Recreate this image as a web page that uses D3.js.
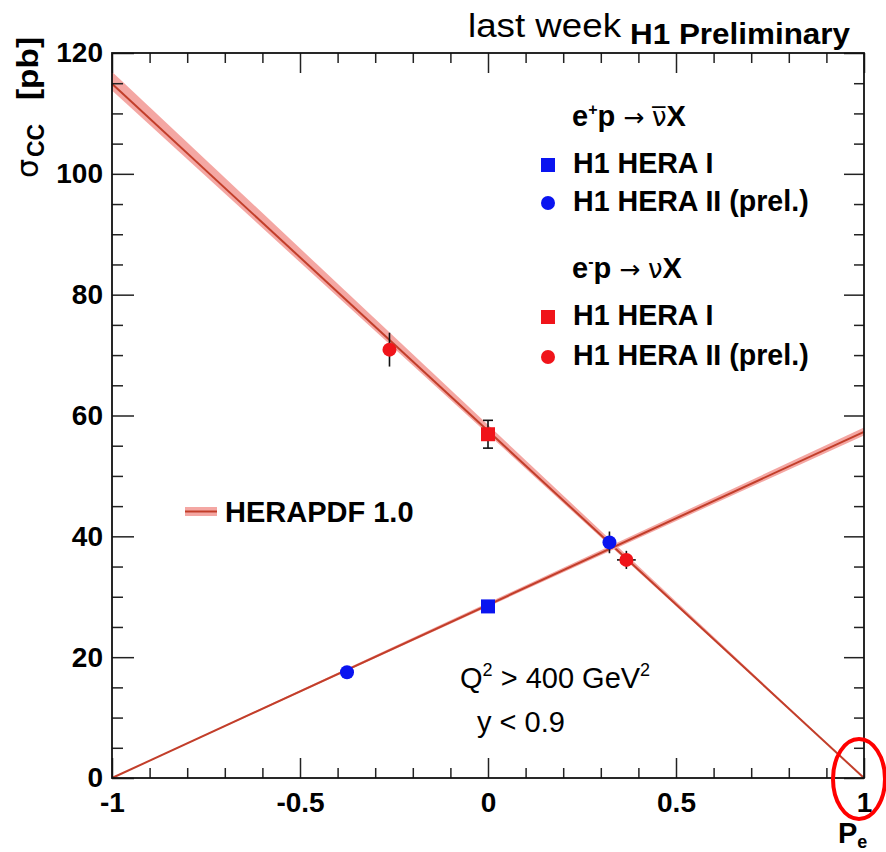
<!DOCTYPE html>
<html><head><meta charset="utf-8">
<script src="https://cdn.jsdelivr.net/npm/d3@7"></script>
<style>body{margin:0;background:#fff}</style>
</head><body>
<svg id="c" width="886" height="852"></svg>
<script>
// ---------------- data ----------------
const pdfP = [-1, 1];
const emCentral = [114.9, 0];
const emLow = [113.8, 0];
const emHigh = [116.9, 0];
const epCentral = [0, 57.3];
const epLow = [0, 56.7];
const epHigh = [0, 58.0];

const epHeraI_P = [0.0], epHeraI_sigma = [28.4], epHeraI_err = [1.0];
const epHeraII_P = [-0.375, 0.323], epHeraII_sigma = [17.5, 39.0], epHeraII_err = [1.0, 1.8];
const emHeraI_P = [0.0], emHeraI_sigma = [56.9], emHeraI_err = [2.3];
const emHeraII_P = [-0.262, 0.368], emHeraII_sigma = [70.9, 36.1], emHeraII_err = [2.8, 1.5], emHeraII_perr = [0.0, 0.025];

const xMajor = [-1, -0.5, 0, 0.5, 1];
const xLabels = ["-1", "-0.5", "0", "0.5", "1"];
const yMajor = [0, 20, 40, 60, 80, 100, 120];
const yLabels = ["0", "20", "40", "60", "80", "100", "120"];

// ---------------- setup ----------------
const FONT = "'Liberation Sans', Arial, Helvetica, sans-serif";
const svg = d3.select("#c");
svg.append("rect").attr("width", 886).attr("height", 852).attr("fill", "#fff");
const x = d3.scaleLinear().domain([-1, 1]).range([112, 864]);
const y = d3.scaleLinear().domain([0, 120]).range([778, 53]);

const xMinor = d3.range(-10, 11).map(i => i / 10).filter(v => Math.abs(v * 2 - Math.round(v * 2)) > 1e-6);
const yMinor = d3.range(0, 121, 5).filter(v => v % 20 !== 0);

const BAND = "#f4a7a3", LINE = "#c23e2a";

// ---------------- HERAPDF bands ----------------
function curve(central, low, high) {
  const pts = pdfP.map((p, i) => ({p, c: central[i], lo: low[i], hi: high[i]}));
  svg.append("path").datum(pts)
    .attr("d", d3.area().x(d => x(d.p)).y0(d => y(d.lo)).y1(d => y(d.hi)))
    .attr("fill", BAND);
  svg.append("path").datum(pts)
    .attr("d", d3.line().x(d => x(d.p)).y(d => y(d.c)))
    .attr("fill", "none").attr("stroke", LINE).attr("stroke-width", 2);
}
curve(emCentral, emLow, emHigh);
curve(epCentral, epLow, epHigh);

// ---------------- axes ----------------
function styleAxis(g) {
  g.select(".domain").remove();
  g.selectAll("line").attr("stroke", "#222").attr("stroke-width", 1.5);
  g.selectAll("text").attr("font-family", FONT).attr("font-size", 28).attr("font-weight", "bold").attr("fill", "#000");
  g.attr("font-family", null).attr("font-size", null);
}
svg.append("g").attr("transform", "translate(0,778)")
  .call(d3.axisBottom(x).tickValues(xMajor).tickSize(-20).tickPadding(14).tickFormat((d, i) => xLabels[i])).call(styleAxis);
svg.append("g").attr("transform", "translate(0,778)")
  .call(d3.axisBottom(x).tickValues(xMinor).tickSize(-10).tickFormat("")).call(styleAxis);
svg.append("g").attr("transform", "translate(0,53)")
  .call(d3.axisTop(x).tickValues(xMajor).tickSize(-20).tickFormat("")).call(styleAxis);
svg.append("g").attr("transform", "translate(0,53)")
  .call(d3.axisTop(x).tickValues(xMinor).tickSize(-10).tickFormat("")).call(styleAxis);
svg.append("g").attr("transform", "translate(112,0)")
  .call(d3.axisLeft(y).tickValues(yMajor).tickSize(-22).tickPadding(9).tickFormat((d, i) => yLabels[i])).call(styleAxis);
svg.append("g").attr("transform", "translate(112,0)")
  .call(d3.axisLeft(y).tickValues(yMinor).tickSize(-11).tickFormat("")).call(styleAxis);
svg.append("g").attr("transform", "translate(864,0)")
  .call(d3.axisRight(y).tickValues(yMajor).tickSize(-20).tickFormat("")).call(styleAxis);
svg.append("g").attr("transform", "translate(864,0)")
  .call(d3.axisRight(y).tickValues(yMinor).tickSize(-10).tickFormat("")).call(styleAxis);

svg.append("rect").attr("x", x(-1)).attr("y", y(120))
  .attr("width", x(1) - x(-1)).attr("height", y(0) - y(120))
  .attr("fill", "none").attr("stroke", "#111").attr("stroke-width", 1.8);

// ---------------- data points ----------------
function errBars(P, S, E, PE, caps) {
  P.forEach((p, i) => {
    svg.append("line").attr("x1", x(p)).attr("x2", x(p)).attr("y1", y(S[i] - E[i])).attr("y2", y(S[i] + E[i]))
      .attr("stroke", "#111").attr("stroke-width", 1.6);
    if (caps) {
      [S[i] - E[i], S[i] + E[i]].forEach(v => svg.append("line").attr("x1", x(p) - 5).attr("x2", x(p) + 5)
        .attr("y1", y(v)).attr("y2", y(v)).attr("stroke", "#111").attr("stroke-width", 1.6));
    }
    if (PE && PE[i] > 0) {
      svg.append("line").attr("x1", x(p - PE[i])).attr("x2", x(p + PE[i])).attr("y1", y(S[i])).attr("y2", y(S[i]))
        .attr("stroke", "#111").attr("stroke-width", 1.6);
    }
  });
}
function squares(P, S, col) {
  svg.selectAll(null).data(P).enter().append("rect")
    .attr("x", (d) => x(d) - 7).attr("y", (d, i) => y(S[i]) - 7).attr("width", 14).attr("height", 14).attr("fill", col);
}
function circles(P, S, col) {
  svg.selectAll(null).data(P).enter().append("circle")
    .attr("cx", d => x(d)).attr("cy", (d, i) => y(S[i])).attr("r", 7).attr("fill", col);
}
const BLUE = "#0a14f0", RED = "#f0141a";
errBars(emHeraI_P, emHeraI_sigma, emHeraI_err, null, true);
errBars(emHeraII_P, emHeraII_sigma, emHeraII_err, emHeraII_perr, false);
errBars(epHeraI_P, epHeraI_sigma, epHeraI_err, null, false);
errBars(epHeraII_P, epHeraII_sigma, epHeraII_err, null, false);
squares(epHeraI_P, epHeraI_sigma, BLUE);
circles(epHeraII_P, epHeraII_sigma, BLUE);
squares(emHeraI_P, emHeraI_sigma, RED);
circles(emHeraII_P, emHeraII_sigma, RED);

// ---------------- legend ----------------
function header(yb, sign, nuBar) {
  const t = svg.append("text").attr("x", 572).attr("y", yb).attr("font-family", FONT).attr("font-size", 29).attr("font-weight", "bold");
  t.append("tspan").text("e");
  t.append("tspan").attr("font-size", 16).attr("dy", -11).text(sign);
  t.append("tspan").attr("dy", 11).text("p");
  t.append("tspan").attr("font-weight", "normal").attr("font-family", "'DejaVu Sans', sans-serif").attr("font-size", 25).text(" \u2192 ");
  t.append("tspan").attr("font-weight", "normal").attr("font-family", "'DejaVu Sans', sans-serif").attr("font-size", 26).text(nuBar ? "\u03BD\u0305" : "\u03BD");
  t.append("tspan").text("X");
}
header(126, "+", true);
header(278, "-", false);
const legRows = [
  {yc: 165, shape: "sq", col: BLUE, label: "H1 HERA I"},
  {yc: 203, shape: "ci", col: BLUE, label: "H1 HERA II (prel.)"},
  {yc: 317, shape: "sq", col: RED, label: "H1 HERA I"},
  {yc: 357, shape: "ci", col: RED, label: "H1 HERA II (prel.)"}
];
legRows.forEach(r => {
  if (r.shape === "sq") svg.append("rect").attr("x", 541).attr("y", r.yc - 7).attr("width", 14).attr("height", 14).attr("fill", r.col);
  else svg.append("circle").attr("cx", 548).attr("cy", r.yc).attr("r", 7).attr("fill", r.col);
  svg.append("text").attr("x", 573).attr("y", r.yc + 8).attr("font-family", FONT).attr("font-size", 28.6)
    .attr("font-weight", "bold").text(r.label);
});

// HERAPDF legend
svg.append("rect").attr("x", 185).attr("y", 507).attr("width", 32).attr("height", 9).attr("fill", BAND);
svg.append("line").attr("x1", 185).attr("x2", 217).attr("y1", 511.5).attr("y2", 511.5).attr("stroke", LINE).attr("stroke-width", 2);
svg.append("text").attr("x", 225).attr("y", 522).attr("font-family", FONT).attr("font-size", 29)
  .attr("font-weight", "bold").text("HERAPDF 1.0");

// cuts
const q = svg.append("text").attr("x", 460).attr("y", 688).attr("font-family", FONT).attr("font-size", 29);
q.append("tspan").text("Q");
q.append("tspan").attr("font-size", 18).attr("dy", -12).text("2");
q.append("tspan").attr("dy", 12).text(" > 400 GeV");
q.append("tspan").attr("font-size", 18).attr("dy", -12).text("2");
svg.append("text").attr("x", 477).attr("y", 732).attr("font-family", FONT).attr("font-size", 29).text("y < 0.9");

// titles
svg.append("text").attr("x", 468).attr("y", 37).attr("font-family", FONT).attr("font-size", 34)
  .attr("textLength", 153).attr("lengthAdjust", "spacingAndGlyphs").text("last week");
svg.append("text").attr("x", 630).attr("y", 43.5).attr("font-family", FONT).attr("font-size", 29)
  .attr("font-weight", "bold").attr("textLength", 220).attr("lengthAdjust", "spacingAndGlyphs").text("H1 Preliminary");

// axis titles
svg.append("text").attr("transform", "translate(38,178) rotate(-90)").attr("font-family", "'DejaVu Sans', sans-serif")
  .attr("font-size", 30).text("\u03C3");
svg.append("text").attr("transform", "translate(44,157) rotate(-90)").attr("font-family", FONT)
  .attr("font-size", 23).attr("font-weight", "bold").text("CC");
svg.append("text").attr("transform", "translate(38,100) rotate(-90)").attr("font-family", FONT)
  .attr("font-size", 29).attr("font-weight", "bold").attr("textLength", 63).attr("lengthAdjust", "spacingAndGlyphs").text("[pb]");

const xl = svg.append("text").attr("x", 838).attr("y", 843).attr("font-family", FONT).attr("font-size", 29).attr("font-weight", "bold");
xl.append("tspan").text("P");
xl.append("tspan").attr("font-size", 18).attr("dy", 5).text("e");

// annotation ellipse
svg.append("ellipse").attr("cx", 859).attr("cy", 779).attr("rx", 26).attr("ry", 40)
  .attr("fill", "none").attr("stroke", "#ff0000").attr("stroke-width", 4);
</script>
</body></html>
